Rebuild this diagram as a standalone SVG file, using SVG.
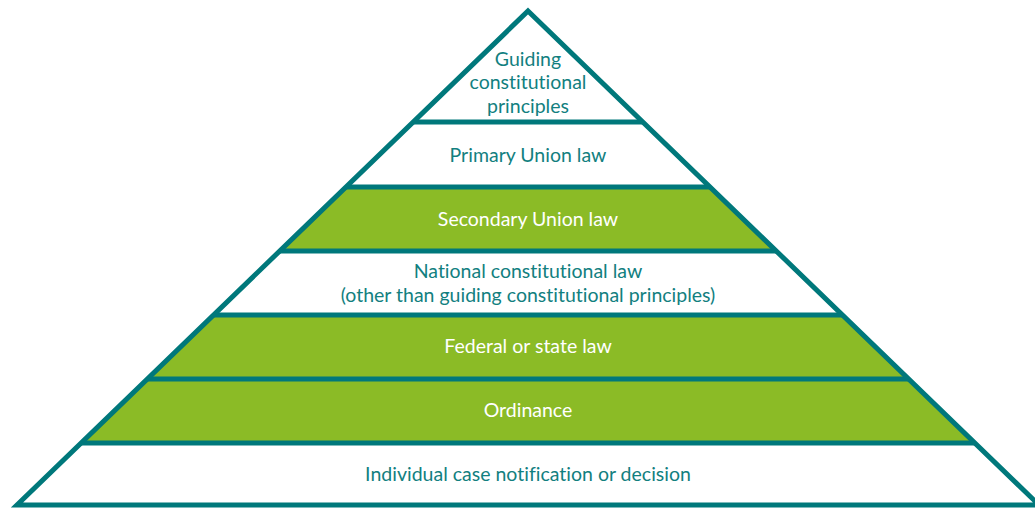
<svg xmlns="http://www.w3.org/2000/svg" width="1035" height="508" viewBox="0 0 1035 508">
  <style>
    .band { fill: #8bbb26; }
    .edge { fill: none; stroke: #00787b; stroke-width: 5; stroke-linejoin: miter; }
    .rule { stroke: #00787b; stroke-width: 5; }
    .lbl, .lbl-w { font-family: Lato, "Open Sans", sans-serif; font-size: 19.5px; text-anchor: middle; font-variant-ligatures: none; }
    .lbl { fill: #12807f; }
    .lbl-w { fill: #ffffff; }
  </style>
  <rect width="1035" height="508" fill="#ffffff"/>

  <!-- green tiers -->
  <g id="tier-secondary">
    <polygon class="band" points="346.1,187 709.9,187 776.3,251 279.7,251"/>
    <text class="lbl-w" x="528" y="226">Secondary Union law</text>
  </g>
  <g id="tier-federal">
    <polygon class="band" points="213.5,315 842.5,315 908.7,379 147.3,379"/>
    <text class="lbl-w" x="528" y="353">Federal or state law</text>
  </g>
  <g id="tier-ordinance">
    <polygon class="band" points="147.3,379 908.7,379 974.9,443 81.1,443"/>
    <text class="lbl-w" x="528" y="417">Ordinance</text>
  </g>

  <!-- white tiers -->
  <g id="tier-guiding">
    <text class="lbl" x="528" y="66">Guiding</text>
    <text class="lbl" x="528" y="89">constitutional</text>
    <text class="lbl" x="528" y="113">principles</text>
  </g>
  <g id="tier-primary">
    <text class="lbl" x="528" y="162">Primary Union law</text>
  </g>
  <g id="tier-national">
    <text class="lbl" x="528" y="278">National constitutional law</text>
    <text class="lbl" x="528" y="302">(other than guiding constitutional principles)</text>
  </g>
  <g id="tier-individual">
    <text class="lbl" x="528" y="481">Individual case notification or decision</text>
  </g>

  <!-- tier dividers and outline -->
  <g id="connectors">
    <line class="rule" x1="413.2" y1="122" x2="642.8" y2="122"/>
    <line class="rule" x1="346.1" y1="187" x2="709.9" y2="187"/>
    <line class="rule" x1="279.7" y1="251" x2="776.3" y2="251"/>
    <line class="rule" x1="213.5" y1="315" x2="842.5" y2="315"/>
    <line class="rule" x1="147.3" y1="379" x2="908.7" y2="379"/>
    <line class="rule" x1="81.1" y1="443" x2="974.9" y2="443"/>
    <polygon class="edge" points="528,11 1039,505 17,505"/>
  </g>
</svg>
